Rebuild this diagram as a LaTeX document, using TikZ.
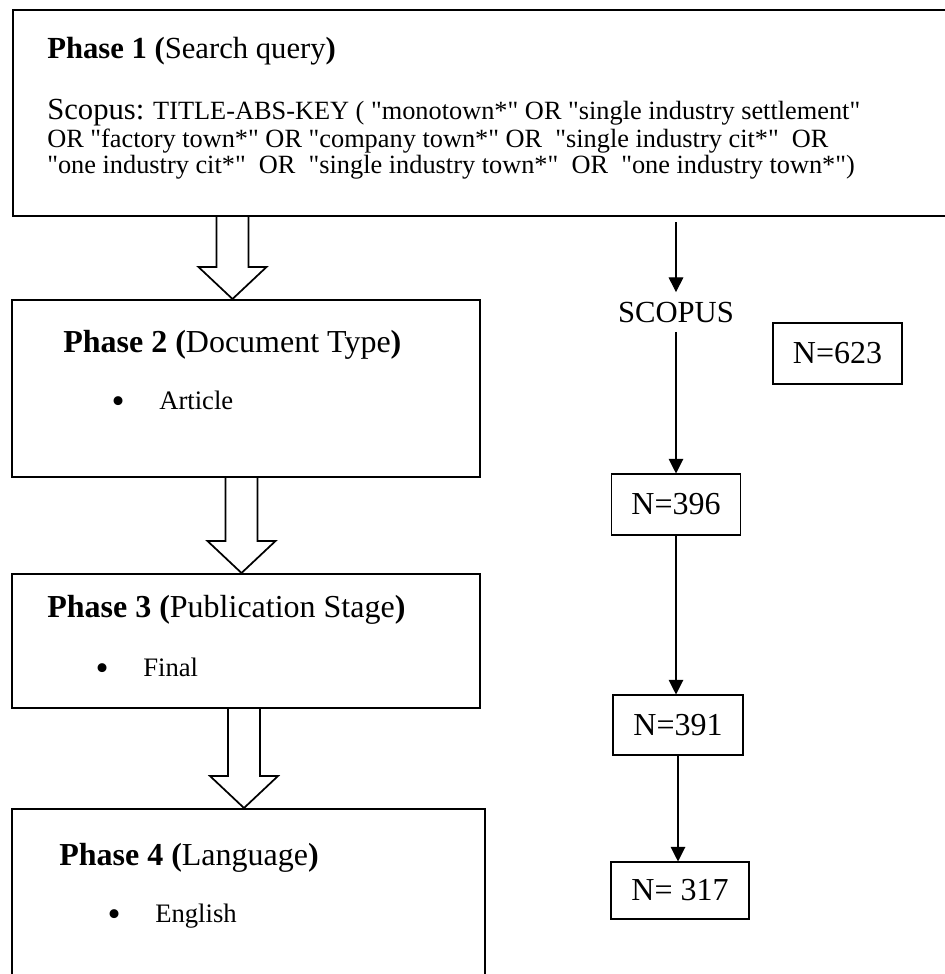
\documentclass[tikz,border=0pt]{standalone}
\usepackage{fontspec}
\setmainfont{Liberation Serif}
\usetikzlibrary{calc,arrows.meta}
\newcommand{\pxu}{0.75pt}
\newcommand{\dq}{\textquotedbl}
\newcommand{\headfont}{\fontsize{24}{28}\selectfont}
\newcommand{\firstfont}{\fontsize{23}{26}\selectfont}
\newcommand{\queryfont}{\fontsize{19.75}{22}\selectfont}
\newcommand{\itemfont}{\fontsize{20}{24}\selectfont}
\newcommand{\countfont}{\fontsize{24}{28}\selectfont}
\newcommand{\phase}[2]{\textbf{Phase #1 (}#2\textbf{)}}
\newcommand{\bulitem}[1]{\llap{\raisebox{-3.5pt}{\fontsize{28}{28}\selectfont\textbullet}\hspace{26pt}}#1}
\newcommand{\fatarrow}[2]{%
    \draw[hollow] let \p1=(#1), \p2=(#2) in
        ({\x1-12pt},\y1) -- ({\x1-12pt},{\y2+24pt}) -- ({\x1-25.5pt},{\y2+24pt})
        -- (\x1,\y2) -- ({\x1+25.5pt},{\y2+24pt}) -- ({\x1+12pt},{\y2+24pt})
        -- ({\x1+12pt},\y1);}
\tikzset{
    phasebox/.style={draw, line width=1.5pt, rectangle, anchor=north west, inner sep=0pt},
    countbox/.style={draw, line width=0.8pt, rectangle, font=\countfont,
        minimum width=129*\pxu, minimum height=61*\pxu, inner sep=0pt},
    txt/.style={anchor=base west, inner sep=0pt},
    hollow/.style={line width=1.3pt, line join=miter},
    feed/.style={line width=0.8pt, -{Triangle[length=11pt,width=11pt]}}
}
\begin{document}
\begin{tikzpicture}[x=\pxu, y=-\pxu]
    \useasboundingbox (0,0) rectangle (945,974);
    \clip (0,0) rectangle (945,974);

    % phase boxes
    \node[phasebox, minimum width=950*\pxu, minimum height=206*\pxu] (p1) at (12,9) {};
    \node[phasebox, minimum width=468*\pxu, minimum height=177*\pxu] (p2) at (11,299) {};
    \node[phasebox, minimum width=468*\pxu, minimum height=134*\pxu] (p3) at (11,573) {};
    \node[phasebox, minimum width=473*\pxu, minimum height=200*\pxu] (p4) at (11,808) {};

    \node[txt, font=\firstfont] (t1) at (47,59) {\phase{1}{Search query}};
    \node[txt, font=\queryfont] (q1) at (47,119) {{\firstfont Scopus:} TITLE-ABS-KEY ( \dq monotown*\dq{} OR \dq single industry settlement\dq};
    \node[txt, font=\queryfont] (q2) at (47,147) {OR \dq factory town*\dq{} OR \dq company town*\dq{} OR\ \ \dq single industry cit*\dq\ \ OR};
    \node[txt, font=\queryfont] (q3) at (47,173) {\dq one industry cit*\dq\ \ OR\ \ \dq single industry town*\dq\ \ OR\ \ \dq one industry town*\dq)};

    \node[txt, font=\headfont] (t2) at (63,352) {\phase{2}{Document Type}};
    \node[txt, font=\itemfont] (i2) at (159,409) {\bulitem{Article}};
    \node[txt, font=\headfont] (t3) at (47,617) {\phase{3}{Publication Stage}};
    \node[txt, font=\itemfont] (i3) at (143,676) {\bulitem{Final}};
    \node[txt, font=\headfont] (t4) at (59,865) {\phase{4}{Language}};
    \node[txt, font=\itemfont] (i4) at (155,922) {\bulitem{English}};

    % hollow arrows between phases
    \coordinate (h1) at (232.5,0);
    \coordinate (h2) at (241.5,0);
    \coordinate (h3) at (244,0);
    \fatarrow{p1.south -| h1}{p2.north -| h1}
    \fatarrow{p2.south -| h2}{p3.north -| h2}
    \fatarrow{p3.south -| h3}{p4.north -| h3}

    % counts
    \node[font=\fontsize{23}{26}\selectfont, inner sep=7pt, anchor=base] (scopus) at (676,322) {SCOPUS};
    \node[countbox] (n623) at (837.5,353.5) {N=623};
    \node[countbox] (n396) at (676,504.5) {N=396};
    \node[countbox, minimum width=130*\pxu, minimum height=60*\pxu] (n391) at (678,725) {N=391};
    \node[countbox, minimum width=138*\pxu, minimum height=57*\pxu] (n317) at (680,890.5) {N= 317};

    \coordinate (start) at (676,222);
    \draw[feed] (start) -- (scopus.north);
    \draw[feed] (scopus.south) -- (scopus.south |- n396.north);
    \draw[feed] (n396.south) -- (n396.south |- n391.north);
    \draw[feed] (n391.south) -- (n391.south |- n317.north);
\end{tikzpicture}
\end{document}
